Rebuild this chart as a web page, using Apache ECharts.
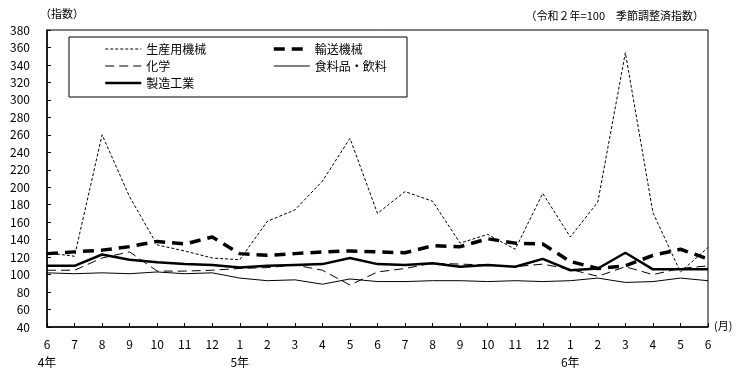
<!DOCTYPE html>
<html><head><meta charset="utf-8">
<script src="https://cdn.jsdelivr.net/npm/echarts@6/dist/echarts.min.js"></script>
<style>html,body{margin:0;padding:0;background:#fff}#c{width:747px;height:372px}</style>
</head><body><div id="c"></div>
<script>
var months = [6,7,8,9,10,11,12,1,2,3,4,5,6,7,8,9,10,11,12,1,2,3,4,5,6];
var yearLabels = ['4年','','','','','','','5年','','','','','','','','','','','','6年','','','','',''];
var yTicks = {min: 40, max: 380, step: 20};
var seikatsuKikai = [125,121,260,189,134,127,119,117,161,174,207,256,170,195,184,136,146,129,193,143,183,354,171,103,131];
var yusoKikai = [124,126,128,132,138,135,143,124,122,124,126,127,126,125,133,132,141,136,135,115,107,110,122,129,118];
var kagaku = [105,105,119,126,104,104,105,107,108,111,105,88,103,107,113,112,111,109,112,106,98,109,100,107,110];
var shokuryo = [102,101,102,101,103,101,102,96,93,94,89,95,92,92,93,93,92,93,92,93,96,91,92,96,93];
var seizo = [110,110,123,117,114,112,111,108,110,111,112,119,112,111,113,109,111,109,118,105,107,125,106,106,106];

var FONT = '"Noto Sans CJK JP", sans-serif';
var cats = months.map(function(m, i){ return i + ':' + m; });
var chart = echarts.init(document.getElementById('c'), null, {renderer: 'canvas'});
var styles = {
  '生産用機械': {width: 1, type: [3, 2]},
  '輸送機械': {width: 3.5, type: [11, 7]},
  '化学': {width: 1, type: [9, 5]},
  '食料品・飲料': {width: 1, type: 'solid'},
  '製造工業': {width: 2.5, type: 'solid'}
};
function ser(name, data){
  var s = styles[name];
  return {name: name, type: 'line', data: data, symbol: 'none', animation: false,
    lineStyle: {color: '#000', width: s.width, type: s.type}, itemStyle: {color: '#000'}};
}
function legItem(name){
  var s = styles[name];
  return {name: name, lineStyle: {color: '#000', width: s.width, type: s.type}, itemStyle: {opacity: 0, color: 'transparent', borderWidth: 0}};
}
chart.setOption({
  animation: false,
  textStyle: {fontFamily: FONT, color: '#000'},
  grid: {left: 47, right: 39, top: 30, bottom: 45, show: true, borderColor: '#000', borderWidth: 1, backgroundColor: 'transparent'},
  xAxis: {type: 'category', data: cats, boundaryGap: false,
    axisLine: {lineStyle: {color: '#000', width: 1.5}},
    axisTick: {inside: true, length: 4, interval: 0, lineStyle: {color: '#000'}},
    axisLabel: {interval: 0, margin: 8, fontSize: 12, color: '#000', fontFamily: FONT, lineHeight: 18,
      formatter: function(v, i){ var m = v.split(':')[1]; return yearLabels[i] ? m + '\n' + yearLabels[i] : m; }},
    splitLine: {show: false}},
  yAxis: {type: 'value', min: yTicks.min, max: yTicks.max, interval: yTicks.step,
    axisLine: {show: true, lineStyle: {color: '#000', width: 1.5}},
    axisTick: {show: true, inside: true, length: 4, lineStyle: {color: '#000'}},
    axisLabel: {fontSize: 12, color: '#000', margin: 17, fontFamily: FONT},
    splitLine: {show: false}},
  legend: [
    {data: ['生産用機械', '化学', '製造工業'].map(legItem), orient: 'vertical', left: 99, top: 38, itemWidth: 36, itemHeight: 10, itemGap: 5,
      textStyle: {fontSize: 12, color: '#000', fontFamily: FONT}},
    {data: ['輸送機械', '食料品・飲料'].map(legItem), orient: 'vertical', left: 267, top: 38, itemWidth: 36, itemHeight: 10, itemGap: 5,
      textStyle: {fontSize: 12, color: '#000', fontFamily: FONT}}
  ],
  graphic: [
    {type: 'rect', shape: {x: 69, y: 37, width: 338, height: 60}, style: {fill: '#fff', stroke: '#000', lineWidth: 1}, z: -1, silent: true},
    {type: 'text', left: 40, top: 8, style: {text: '（指数）', font: '11px ' + FONT, fill: '#000'}},
    {type: 'text', right: 43, top: 10, style: {text: '（令和２年=100　季節調整済指数）', font: '11px ' + FONT, fill: '#000'}},
    {type: 'text', left: 714, top: 320, style: {text: '(月)', font: '11px ' + FONT, fill: '#000'}}
  ],
  series: [
    ser('生産用機械', seikatsuKikai),
    ser('輸送機械', yusoKikai),
    ser('化学', kagaku),
    ser('食料品・飲料', shokuryo),
    ser('製造工業', seizo)
  ]
});
</script></body></html>
